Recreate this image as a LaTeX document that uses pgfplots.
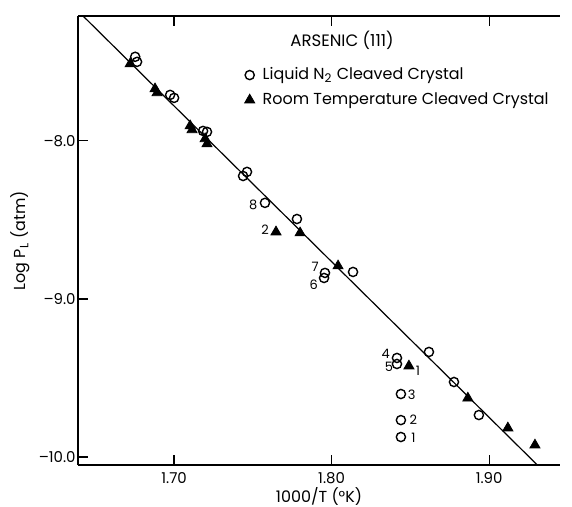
\documentclass[border=0pt]{standalone}
\usepackage{fontspec}
\setmainfont{Poppins}
\usepackage{pgfplots}
\pgfplotsset{compat=1.18}
\begin{document}
\begin{tikzpicture}
\path[use as bounding box] (-39bp,-21bp) rectangle (247bp,232.5bp);
\begin{axis}[
  at={(0,0)}, anchor=south west,
  scale only axis, width=241bp, height=224.5bp,
  xmin=1.639, xmax=1.945, ymin=-10.05, ymax=-7.21,
  axis x line=box, axis y line=left,
  axis line style={-, line width=0.6pt},
  every outer x axis line/.append style={-},
  every outer y axis line/.append style={-},
  xtick={1.70,1.80,1.90}, xticklabels={1.70,1.80,1.90},
  ytick={-10,-9,-8}, yticklabels={\textendash10.0,\textendash9.0,\textendash8.0},
  tick align=inside, major tick length=5bp,
  tick style={black, line width=0.6pt},
  ticklabel style={font=\fontsize{7.5}{9}\selectfont},
  yticklabel style={inner xsep=1pt},
  xlabel={1000/T (°K)}, ylabel={Log P\textsubscript{L} (atm)},
  label style={font=\fontsize{8}{10}\selectfont},
  xlabel style={yshift=5bp},
  legend style={at={(0.345,0.895)}, anchor=north west, draw=none, fill=none,
    font=\fontsize{8}{9.5}\selectfont, row sep=1bp, inner sep=0pt},
  legend cell align=left,
]
\addplot[only marks, mark=o, mark size=2.3bp, mark options={line width=0.7pt, black}] coordinates {
(1.6753,-7.468) (1.6765,-7.500) (1.6975,-7.709) (1.7000,-7.728)
(1.7184,-7.937) (1.7209,-7.943) (1.7438,-8.222) (1.7463,-8.196)
(1.7577,-8.392) (1.7780,-8.494) (1.7958,-8.835) (1.7952,-8.867)
(1.8136,-8.829) (1.8618,-9.335) (1.8415,-9.373) (1.8415,-9.411)
(1.8440,-9.601) (1.8440,-9.766) (1.8440,-9.873) (1.8777,-9.525)
(1.8935,-9.734)
};
\addlegendentry{\hspace{2bp}Liquid N\textsubscript{2} Cleaved Crystal}
\addplot[only marks, mark=triangle*, mark size=2.9bp, black] coordinates {
(1.6721,-7.513) (1.6879,-7.671) (1.6892,-7.696) (1.7102,-7.905)
(1.7114,-7.930) (1.7197,-7.987) (1.7209,-8.019) (1.7647,-8.576)
(1.7800,-8.582) (1.8041,-8.791) (1.8491,-9.424) (1.8865,-9.627)
(1.9119,-9.816) (1.9291,-9.924)
};
\addlegendentry{\hspace{2bp}Room Temperature Cleaved Crystal}
\addplot[black, line width=0.6pt, forget plot] coordinates {(1.642,-7.208) (1.9306,-10.05)};
\node[anchor=base west, inner sep=0pt, font=\fontsize{8.3}{10}\selectfont] at (rel axis cs:0.44,0.931) {ARSENIC (111)};
\begin{scope}[every node/.style={font=\fontsize{6.5}{8}\selectfont}]
\node at (axis cs:1.7503,-8.405) {8};
\node at (axis cs:1.7578,-8.563) {2};
\node at (axis cs:1.7896,-8.799) {7};
\node at (axis cs:1.7887,-8.907) {6};
\node at (axis cs:1.8343,-9.344) {4};
\node at (axis cs:1.8364,-9.428) {5};
\node at (axis cs:1.8548,-9.453) {1};
\node at (axis cs:1.8508,-9.603) {3};
\node at (axis cs:1.8519,-9.766) {2};
\node at (axis cs:1.8519,-9.876) {1};
\end{scope}
\end{axis}
\end{tikzpicture}
\end{document}
